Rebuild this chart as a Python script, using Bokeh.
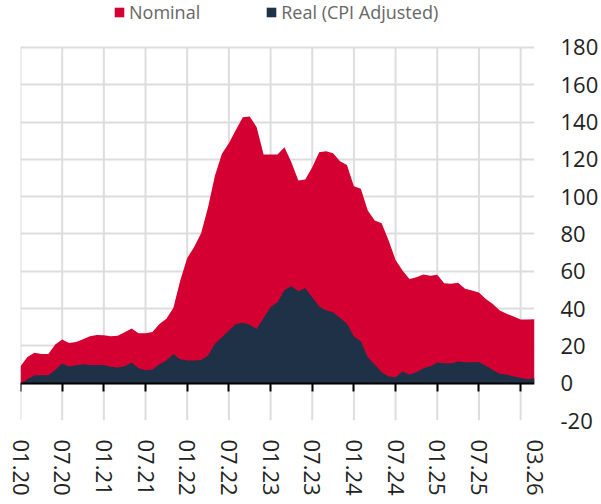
from bokeh.plotting import figure
from bokeh.models import (Range1d, FixedTicker, LinearAxis, Legend, LegendItem,
                          ColumnDataSource)
from bokeh.embed import file_html
from bokeh.resources import INLINE

# Monthly values, 01.2020 .. 03.2026
nominal = [9.1, 14, 16.3, 15.7, 15.7, 20.7, 23.4, 21.6, 22.1, 23.6,
           25.2, 25.9, 25.7, 25.2, 25.5, 27.3, 29.3, 26.8, 26.8, 27.5,
           31.8, 34.5, 40.3, 55, 67.1, 73, 80.4, 94.4, 111.3, 123,
           128.7, 135.8, 142.6, 143, 137.3, 122.6, 122.6, 122.6, 126.5, 118.5,
           108.7, 109.2, 115.8, 123.9, 124.4, 123.3, 119, 117, 105.6, 104.2,
           92.6, 87.2, 85.8, 76.5, 66.1, 60.4, 55.9, 56.8, 58.3, 57.6,
           58.1, 53.6, 53.3, 53.8, 50.6, 49.7, 48.6, 45.2, 42.5, 39,
           37.2, 35.7, 34.1, 34.1, 34.3]
real = [-0.5, 2.3, 4.1, 4.3, 4.3, 7.1, 10.5, 8.9, 9.6, 10.2,
        9.8, 9.8, 9.8, 8.8, 8.4, 9.1, 11.1, 8, 7, 7.3,
        10.2, 12.2, 15.6, 12.8, 12.2, 12.2, 12.5, 14.8, 21.1, 24.7,
        28.2, 31.8, 32.4, 31.3, 29.1, 35, 40.8, 43.4, 50, 52,
        49.3, 51.1, 46.1, 41.1, 39, 38.1, 35, 32, 25, 22.5,
        13.9, 10, 5.9, 3.6, 3.2, 6.3, 4.6, 5.9, 8, 9.1,
        11.1, 10.7, 10.7, 11.6, 11.3, 11.3, 11.4, 9.3, 7.1, 5,
        4.6, 3.6, 2.9, 2.1, 2.7]
months = list(range(len(nominal)))

label_ticks = [0, 6, 12, 18, 24, 30, 36, 42, 48, 54, 60, 66, 74]
tick_labels = ["01.20", "07.20", "01.21", "07.21", "01.22", "07.22", "01.23",
               "07.23", "01.24", "07.24", "01.25", "07.25", "03.26"]
grid_ticks = [0, 6, 12, 18, 24, 30, 36, 42, 48, 54, 60, 66, 72]
y_ticks = [-20, 0, 20, 40, 60, 80, 100, 120, 140, 160, 180]
y_labels = ["-20", "0", "20", "40", "60", "80", "100", "120", "140", "160", "180"]

RED = "#d50032"
NAVY = "#1e3146"
FONT = "Open Sans"

src = ColumnDataSource(dict(m=months, nominal=nominal, real=real))

# headroom above 180 holds the legend inside the frame
p = figure(width=601, height=504, x_range=Range1d(0, 74), y_range=Range1d(-20, 205.2),
           y_axis_location="right", output_backend="svg", toolbar_location=None,
           min_border_left=20, min_border_top=0, min_border_bottom=84, min_border_right=0)
p.outline_line_color = None
p.background_fill_color = "white"

# vertical grid lines limited to the value range
p.xgrid.visible = False
p.segment(x0=grid_ticks, y0=[y_ticks[0]] * len(grid_ticks),
          x1=grid_ticks, y1=[y_ticks[-1]] * len(grid_ticks),
          line_color="#dddddd", line_width=2, level="underlay")
p.ygrid.ticker = FixedTicker(ticks=y_ticks)
p.ygrid.grid_line_color = "#dddddd"
p.ygrid.grid_line_width = 2

r_nom = p.varea(x="m", y1=0, y2="nominal", source=src, fill_color=RED)
r_real = p.varea(x="m", y1=0, y2="real", source=src, fill_color=NAVY)

# label axis (bottom)
xax = p.xaxis[0]
xax.ticker = FixedTicker(ticks=label_ticks)
xax.major_label_overrides = {t: l for t, l in zip(label_ticks, tick_labels)}
xax.major_label_orientation = "vertical"
xax.axis_line_color = None
xax.major_tick_line_color = None
xax.minor_tick_line_color = None
xax.major_tick_in = 0
xax.major_tick_out = 0
xax.major_label_standoff = 19
xax.major_label_text_font = FONT
xax.major_label_text_font_size = "22px"
xax.major_label_text_color = "#222222"

# zero line with ticks
tax = LinearAxis(fixed_location=0, ticker=FixedTicker(ticks=grid_ticks),
                 major_tick_in=0, major_tick_out=8, major_tick_line_color="black",
                 major_tick_line_width=2, axis_line_color="black", axis_line_width=2,
                 minor_tick_line_color=None, major_label_text_font_size="0px",
                 major_label_text_alpha=0)
p.add_layout(tax, "below")

# y axis (right)
yax = p.yaxis[0]
yax.ticker = FixedTicker(ticks=y_ticks)
yax.major_label_overrides = {t: l for t, l in zip(y_ticks, y_labels)}
yax.axis_line_color = None
yax.major_tick_line_color = None
yax.minor_tick_line_color = None
yax.major_tick_in = 0
yax.major_tick_out = 0
yax.major_label_standoff = 26
yax.major_label_text_font = FONT
yax.major_label_text_font_size = "22px"
yax.major_label_text_color = "#222222"

legend = Legend(items=[LegendItem(label="Nominal", renderers=[r_nom]),
                       LegendItem(label="Real (CPI Adjusted)", renderers=[r_real])],
                orientation="horizontal", location=(93, 396), padding=0, margin=0,
                spacing=65, glyph_width=12, glyph_height=12, label_standoff=4,
                label_text_font=FONT, label_text_font_size="18px",
                label_text_color="#666666", border_line_color=None,
                background_fill_alpha=0)
p.add_layout(legend)

open("out.html", "w").write(file_html(p, INLINE))
